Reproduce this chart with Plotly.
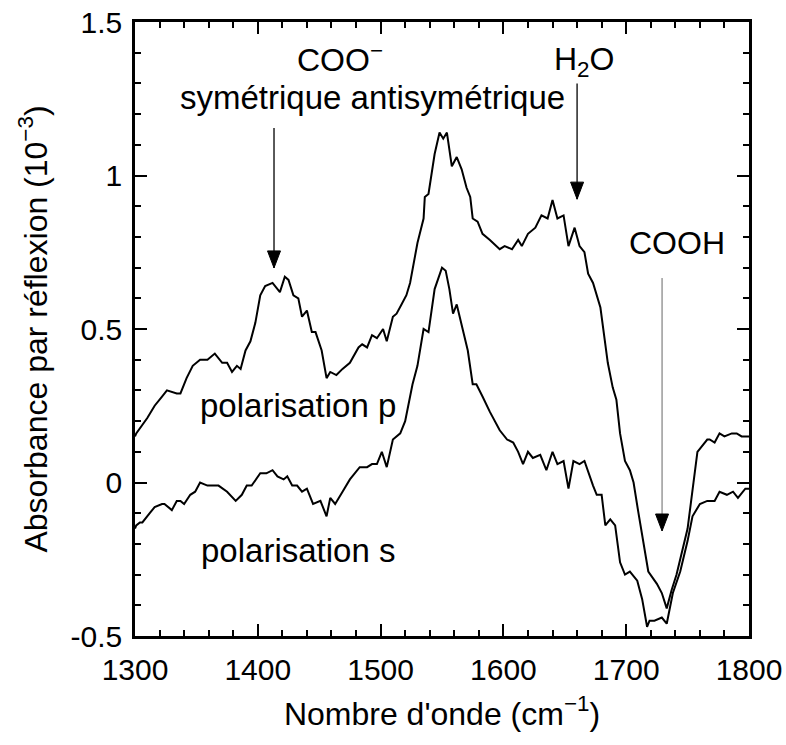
import plotly.graph_objects as go

# Reflection absorbance spectra (units of 1e-3), p and s polarisation
wavenumber_p = [1300, 1301, 1310, 1316, 1322, 1326, 1334, 1337, 1342, 1347, 1353, 1359, 1365,
                1371, 1375, 1379, 1383, 1386, 1390, 1394, 1398, 1402, 1406, 1412, 1418, 1422,
                1425, 1429, 1433, 1436, 1440, 1444, 1447, 1452, 1456, 1459, 1464, 1469, 1475,
                1482, 1485, 1489, 1493, 1497, 1502, 1505, 1510, 1513, 1517, 1521, 1524, 1530,
                1535, 1536, 1539, 1542, 1544, 1548, 1551, 1554, 1558, 1562, 1566, 1570, 1573,
                1575, 1579, 1583, 1589, 1597, 1601, 1607, 1612, 1615, 1620, 1626, 1631, 1636,
                1640, 1644, 1649, 1653, 1658, 1662, 1666, 1669, 1673, 1679, 1683, 1685, 1689,
                1692, 1695, 1699, 1703, 1706, 1710, 1714, 1718, 1725, 1729, 1733, 1737, 1741,
                1750, 1758, 1766, 1768, 1772, 1776, 1780, 1786, 1790, 1794, 1800]
absorb_p = [0.15, 0.16, 0.21, 0.25, 0.28, 0.30, 0.29, 0.29, 0.34, 0.38, 0.40, 0.40, 0.42,
            0.39, 0.39, 0.36, 0.38, 0.37, 0.43, 0.46, 0.52, 0.61, 0.64, 0.65, 0.62, 0.67,
            0.66, 0.61, 0.60, 0.54, 0.56, 0.49, 0.49, 0.43, 0.34, 0.36, 0.35, 0.37, 0.39,
            0.44, 0.45, 0.44, 0.48, 0.47, 0.50, 0.46, 0.54, 0.55, 0.58, 0.61, 0.65, 0.78,
            0.86, 0.93, 0.94, 1.02, 1.07, 1.14, 1.12, 1.14, 1.03, 1.06, 1.02, 0.96, 0.93,
            0.86, 0.85, 0.81, 0.79, 0.76, 0.77, 0.76, 0.79, 0.77, 0.81, 0.83, 0.87, 0.86,
            0.92, 0.86, 0.87, 0.77, 0.83, 0.77, 0.75, 0.68, 0.65, 0.57, 0.45, 0.39, 0.31,
            0.27, 0.16, 0.07, 0.04, 0.00, -0.10, -0.20, -0.29, -0.33, -0.36, -0.41, -0.35,
            -0.30, -0.15, 0.10, 0.14, 0.14, 0.13, 0.16, 0.15, 0.16, 0.16, 0.15, 0.15]

wavenumber_s = [1300, 1301, 1304, 1306, 1312, 1316, 1322, 1324, 1330, 1334, 1337, 1340, 1345,
                1349, 1353, 1359, 1363, 1368, 1375, 1382, 1387, 1391, 1395, 1402, 1407, 1412,
                1416, 1421, 1424, 1428, 1432, 1436, 1440, 1445, 1451, 1453, 1456, 1459, 1463,
                1469, 1475, 1483, 1489, 1493, 1497, 1501, 1505, 1510, 1516, 1520, 1522, 1526,
                1530, 1535, 1539, 1544, 1550, 1553, 1556, 1559, 1562, 1567, 1571, 1575, 1578,
                1583, 1589, 1597, 1603, 1608, 1612, 1616, 1620, 1624, 1630, 1635, 1640, 1644,
                1649, 1653, 1657, 1662, 1666, 1673, 1676, 1680, 1683, 1687, 1691, 1695, 1699,
                1703, 1709, 1713, 1717, 1719, 1723, 1729, 1733, 1738, 1744, 1750, 1754, 1760,
                1766, 1772, 1776, 1782, 1787, 1791, 1797, 1800]
absorb_s = [-0.15, -0.14, -0.13, -0.13, -0.10, -0.08, -0.07, -0.07, -0.09, -0.06, -0.06, -0.07,
            -0.04, -0.03, 0.00, -0.01, -0.01, -0.01, -0.03, -0.06, -0.04, -0.01, -0.01, 0.03,
            0.03, 0.04, 0.02, 0.01, 0.02, -0.01, -0.01, -0.03, -0.02, -0.07, -0.06, -0.08,
            -0.11, -0.05, -0.07, -0.03, 0.01, 0.05, 0.05, 0.06, 0.06, 0.10, 0.05, 0.14, 0.16,
            0.20, 0.24, 0.32, 0.38, 0.50, 0.49, 0.63, 0.70, 0.69, 0.63, 0.55, 0.58, 0.50,
            0.43, 0.32, 0.32, 0.28, 0.23, 0.17, 0.14, 0.13, 0.10, 0.06, 0.10, 0.08, 0.09,
            0.04, 0.10, 0.06, 0.07, -0.02, 0.07, 0.06, 0.07, -0.01, -0.04, -0.04, -0.14,
            -0.12, -0.14, -0.26, -0.30, -0.29, -0.32, -0.38, -0.47, -0.45, -0.45, -0.44,
            -0.46, -0.36, -0.29, -0.19, -0.11, -0.07, -0.06, -0.06, -0.03, -0.04, -0.03,
            -0.05, -0.02, -0.02]

x_ticks = [1300, 1400, 1500, 1600, 1700, 1800]
y_ticks = [-0.5, 0, 0.5, 1, 1.5]
y_tick_text = ["-0.5", "0", "0.5", "1", "1.5"]

# Band assignments: arrow x position, arrow top and arrow tip (data units)
band_x = [1413.2, 1660.0, 1729.2]
band_top = [1.155, 1.30, 0.666]
band_tip = [0.699, 0.923, -0.158]
band_line_color = ["black", "black", "#666666"]
band_line_width = [1.3, 1.3, 1.0]

# Text labels: (text, x, y, font size)
labels = [
    ("COO<sup>−</sup>", 1467, 1.382, 32),
    ("symétrique antisymétrique", 1493, 1.255, 33),
    ("H<sub>2</sub>O", 1666, 1.37, 32),
    ("COOH", 1741, 0.78, 32),
    ("polarisation p", 1433, 0.25, 33),
    ("polarisation s", 1433, -0.22, 33),
]

FONT = "Liberation Sans, Arial, sans-serif"

fig = go.Figure()
fig.add_trace(go.Scatter(x=wavenumber_p, y=absorb_p, mode="lines",
                         line=dict(color="black", width=2), name="p", showlegend=False))
fig.add_trace(go.Scatter(x=wavenumber_s, y=absorb_s, mode="lines",
                         line=dict(color="black", width=2), name="s", showlegend=False))

shapes = []
for bx, top, tip, col, w in zip(band_x, band_top, band_tip, band_line_color, band_line_width):
    shapes.append(dict(type="line", xref="x", yref="y", x0=bx, x1=bx, y0=top, y1=tip,
                       line=dict(color=col, width=w)))
    # filled arrow head, sized in pixels, anchored at the tip
    shapes.append(dict(type="path", xref="x", yref="y", xsizemode="pixel", ysizemode="pixel",
                       xanchor=bx, yanchor=tip, path="M-6.5,17 L6.5,17 L0,0 Z",
                       fillcolor="black", line=dict(color="black", width=1)))

annotations = [dict(text=t, x=x, y=y, xref="x", yref="y", showarrow=False,
                    font=dict(family=FONT, size=s, color="black"),
                    xanchor="center", yanchor="middle") for t, x, y, s in labels]

axis_common = dict(showline=True, linecolor="black", linewidth=2.5, mirror="allticks",
                   ticks="inside", ticklen=12, tickwidth=2, tickcolor="black",
                   showgrid=False, zeroline=False, automargin=False,
                   tickfont=dict(family=FONT, size=30, color="black"))

fig.update_layout(
    width=786, height=745, autosize=False,
    margin=dict(l=135, r=37, t=22, b=109),
    paper_bgcolor="white", plot_bgcolor="white",
    shapes=shapes, annotations=annotations,
    xaxis=dict(range=[1300, 1800], tickvals=x_ticks, ticktext=[str(v) for v in x_ticks],
               minor=dict(dtick=20, ticks="inside", ticklen=6, tickwidth=2, tickcolor="black"),
               ticklabelstandoff=5,
               title=dict(text="Nombre d'onde (cm<sup>−1</sup>)", standoff=18,
                          font=dict(family=FONT, size=32, color="black")),
               **axis_common),
    yaxis=dict(range=[-0.5, 1.5], tickvals=y_ticks, ticktext=y_tick_text,
               minor=dict(dtick=0.1, ticks="inside", ticklen=6, tickwidth=2, tickcolor="black"),
               ticklabelstandoff=4,
               title=dict(text="Absorbance par réflexion (10<sup>−3</sup>)", standoff=14,
                          font=dict(family=FONT, size=32, color="black")),
               **axis_common),
)

fig.write_html("out.html")
